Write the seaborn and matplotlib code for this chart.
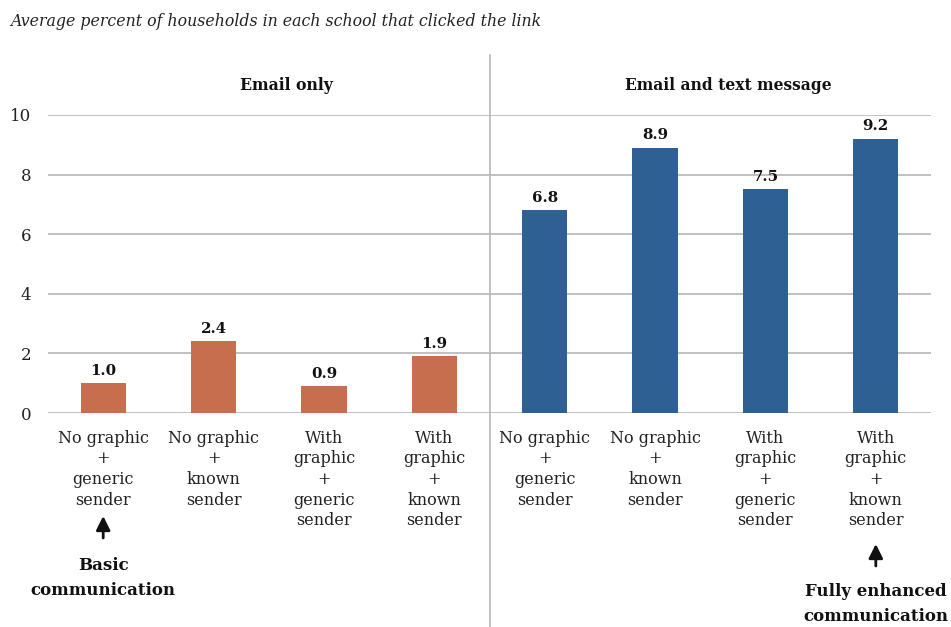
import matplotlib
matplotlib.use("Agg")
import matplotlib.pyplot as plt
import seaborn as sns
import pandas as pd

groups = ["Email only"] * 4 + ["Email and text message"] * 4
conditions = [
    "No graphic\n+\ngeneric\nsender",
    "No graphic\n+\nknown\nsender",
    "With\ngraphic\n+\ngeneric\nsender",
    "With\ngraphic\n+\nknown\nsender",
] * 2
values = [1.0, 2.4, 0.9, 1.9, 6.8, 8.9, 7.5, 9.2]
group_names = ["Email only", "Email and text message"]
colors = ["#C76E4F", "#2E6094"]
yticks = [0, 2, 4, 6, 8, 10]

df = pd.DataFrame({"pos": list(range(len(values))), "group": groups, "value": values})

sns.set_theme(style="white")
plt.rcParams["font.family"] = ["DejaVu Serif"]

fig = plt.figure(figsize=(9.51, 6.27), dpi=100)
ax = fig.add_axes([48 / 951, 1 - 413 / 627, (931 - 48) / 951, (413 - 115) / 627])

sns.barplot(data=df, x="pos", y="value", hue="group", hue_order=group_names,
            palette=colors, dodge=False, width=0.41, saturation=1,
            linewidth=0, edgecolor="none", legend=False, ax=ax, zorder=3)

ax.set_xlim(-0.5, 7.5)
ax.set_ylim(0, 10)
ax.set_yticks(yticks)
ax.set_yticklabels([str(t) for t in yticks], fontsize=12, color="#222222")
ax.set_xticks(range(len(values)))
ax.set_xticklabels(conditions, fontsize=11.5, color="#222222", linespacing=1.28)
ax.tick_params(axis="both", length=0)
ax.tick_params(axis="y", pad=12)
ax.tick_params(axis="x", pad=12)
ax.set_xlabel("")
ax.set_ylabel("")
for s in ax.spines.values():
    s.set_visible(False)
for t in yticks:
    ax.axhline(t, color="#BBBBBB", lw=1.3, zorder=1)

for p, v in zip(df["pos"], df["value"]):
    ax.annotate(f"{v:.1f}", (p, v), xytext=(0, 4), textcoords="offset points",
                ha="center", va="bottom", fontsize=10.8, fontweight="bold", color="#111111")

# divider
ax.axvline(3.5, ymin=(413 - 627) / 298, ymax=(413 - 55) / 298, color="#BBBBBB",
           lw=1.3, clip_on=False, zorder=0)

# group headers
ax.text(1.66, 11.0, group_names[0], ha="center", va="center", fontsize=11.3,
        fontweight="bold", color="#111111")
ax.text(5.66, 11.0, group_names[1], ha="center", va="center", fontsize=11.2,
        fontweight="bold", color="#111111")

# title
fig.text(10 / 951, 1 - 22 / 627, "Average percent of households in each school that clicked the link",
         ha="left", va="center", fontsize=11.3, style="italic", color="#222222")

# annotations
def to_fig_y(py):
    return 1 - py / 627

for xi, tip, tail, txt, ty in [
    (0, 516, 538, "Basic\ncommunication", 578),
    (7, 544, 566, "Fully enhanced\ncommunication", 604),
]:
    xf = (48 + (xi + 0.5) * (931 - 48) / 8) / 951
    fig.add_artist(matplotlib.patches.FancyArrowPatch(
        (xf, to_fig_y(tail)), (xf, to_fig_y(tip)), transform=fig.transFigure,
        arrowstyle="-|>,head_length=0.7,head_width=0.35", lw=2, color="#111111",
        mutation_scale=12, shrinkA=0, shrinkB=0))
    fig.text(xf, to_fig_y(ty), txt, ha="center", va="center", fontsize=12,
             fontweight="bold", color="#111111", linespacing=1.55)

fig.savefig("out.png", dpi=100)
